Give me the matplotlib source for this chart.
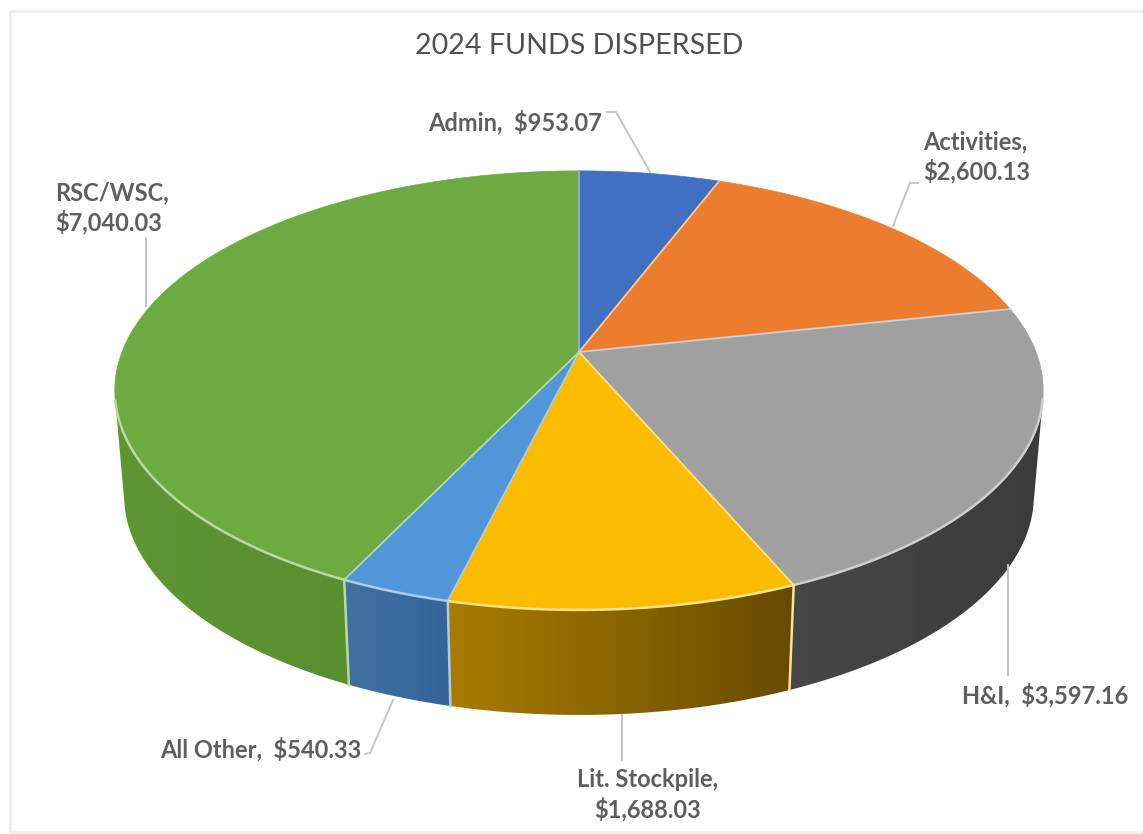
import numpy as np
import matplotlib
matplotlib.use("Agg")
import matplotlib.pyplot as plt
from matplotlib.colors import LinearSegmentedColormap
from matplotlib.patches import Polygon, Rectangle

plt.rcParams['font.family'] = ['Lato', 'DejaVu Sans']

# data
categories = ["Admin", "Activities", "H&I", "Lit. Stockpile", "All Other", "RSC/WSC"]
values = [953.07, 2600.13, 3597.16, 1688.03, 540.33, 7040.03]
top_colors = ["#3F70C2", "#ED7D2E", "#A0A0A0", "#FBBC00", "#5096D8", "#6DAA41"]
wall_left = ["#2F5494", "#B25A1E", "#474747", "#A97C00", "#41719F", "#5E9634"]
wall_right = ["#2F5494", "#B25A1E", "#3B3B3B", "#674B00", "#33649A", "#5A8F30"]
seam_colors = ["#8FABDD", "#F6C9A4", "#CFCFCF", "#FFE28A", "#A9CDEC", "#B8DC9A"]

title = "2024 FUNDS DISPERSED"

# pie geometry in image pixels
cx, cy = 579, 352
rx, ry = 457, 212.8
persp = 0.175
depth = 105
bottom_scale = 0.98


def project(theta, lower=False):
    # theta is clockwise from the top of the disc
    u, v = np.sin(theta), np.cos(theta)
    d = 1 + persp * v
    x, y = rx * u / d, -ry * v / d
    if lower:
        return cx + bottom_scale * x, cy + y + depth
    return cx + x, cy + y


fig = plt.figure(figsize=(11.43, 8.34), dpi=100)
ax = fig.add_axes([0, 0, 1, 1])

# chart frame, its right side runs off the picture
ax.add_patch(Rectangle((10, 11), 1200, 821, fill=False, ec="#EEEEEE", lw=2, zorder=0))

fractions = np.array(values) / sum(values)
edges = np.concatenate([[0], np.cumsum(fractions)]) * 2 * np.pi

# side walls first, the top disc covers whatever is behind it
for i in range(len(values)):
    t = np.linspace(edges[i], edges[i + 1], 400)
    xt, yt = project(t)
    xb, yb = project(t, lower=True)
    tx, ty = np.gradient(xt), np.gradient(yt)
    front = tx * (yb - yt) - ty * (xb - xt) < 0
    if front.sum() < 2:
        continue
    poly_x = np.concatenate([xt[front], xb[front][::-1]])
    poly_y = np.concatenate([yt[front], yb[front][::-1]])
    cmap = LinearSegmentedColormap.from_list("wall", [wall_left[i], wall_right[i]])
    im = ax.imshow(np.linspace(0, 1, 256).reshape(1, -1), cmap=cmap, aspect="auto",
                   extent=[poly_x.min(), poly_x.max(), poly_y.max(), poly_y.min()], zorder=1)
    clip = Polygon(np.column_stack([poly_x, poly_y]), closed=True, transform=ax.transData)
    im.set_clip_path(clip)

# top of the pie
for i in range(len(values)):
    t = np.linspace(edges[i], edges[i + 1], 300)
    xt, yt = project(t)
    poly = np.column_stack([np.r_[cx, xt], np.r_[cy, yt]])
    ax.add_patch(Polygon(poly, closed=True, fc=top_colors[i], ec=top_colors[i], lw=0.5, zorder=2))

# light seams along slices and the front rim
for i in range(len(values)):
    t = np.linspace(edges[i], edges[i + 1], 300)
    xt, yt = project(t)
    xb, yb = project(t, lower=True)
    tx, ty = np.gradient(xt), np.gradient(yt)
    front = tx * (yb - yt) - ty * (xb - xt) < 0
    ax.plot(xt[front], yt[front], color=seam_colors[i], lw=1.8, zorder=3)
    ax.plot([cx, xt[0]], [cy, yt[0]], color=seam_colors[i], lw=1.3, zorder=3)
    if front[0]:
        ax.plot([xt[0], xb[0]], [yt[0], yb[0]], color=seam_colors[i], lw=1.8, zorder=3)

# leader lines
leaders = [
    ([607, 616, 650], [112, 112, 172]),
    ([918, 910, 893], [183, 183, 226]),
    ([1008, 1008], [565, 675]),
    ([622, 622], [715, 760]),
    ([365, 370, 393], [754, 753, 700]),
    ([146, 146], [238, 306]),
]
for lx, ly in leaders:
    ax.plot(lx, ly, color="#C4C4C4", lw=1.4, zorder=1.5)

# labels
label_color = "#5E5E5E"
label_size = 17
ax.text(579, 46, title, fontsize=20.6, color="#505050", ha="center", va="center")
ax.text(428, 122, "Admin,  $953.07", fontsize=label_size, color=label_color, weight="bold", va="center")
ax.text(923, 157, "Activities,\n$2,600.13", fontsize=label_size, color=label_color, weight="bold",
        va="center", linespacing=1.3)
ax.text(962, 695, "H&I,  $3,597.16", fontsize=label_size, color=label_color, weight="bold", va="center")
ax.text(648, 795, "Lit. Stockpile,\n$1,688.03", fontsize=label_size, color=label_color, weight="bold",
        ha="center", va="center", multialignment="center", linespacing=1.3)
ax.text(160, 749, "All Other,  $540.33", fontsize=label_size, color=label_color, weight="bold", va="center")
ax.text(55, 208, "RSC/WSC,\n$7,040.03", fontsize=label_size, color=label_color, weight="bold",
        va="center", linespacing=1.3)

ax.set_xlim(0, 1143)
ax.set_ylim(834, 0)
ax.axis("off")

fig.savefig("out.png", dpi=100, facecolor="white")
